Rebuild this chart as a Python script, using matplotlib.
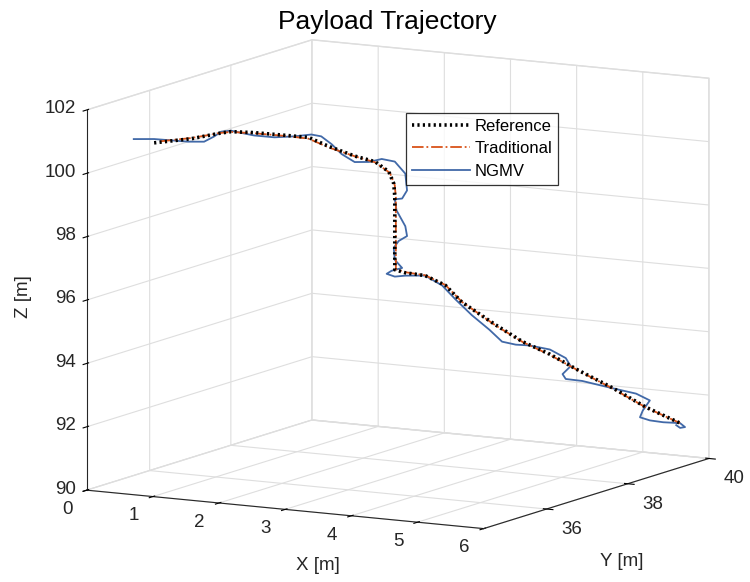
import matplotlib.pyplot as plt
from mpl_toolkits.mplot3d import proj3d

plt.rcParams["font.family"] = ["Liberation Sans", "DejaVu Sans"]

# reference path (x, y, z in m)
ref_x = [0.54, 0.92, 1.23, 1.33, 1.56, 1.91, 2.12, 2.32, 2.59, 2.80, 2.94, 2.99, 3.00, 3.00, 3.00, 3.00,
         3.11, 3.31, 3.52, 3.69, 4.03, 4.31, 4.59, 4.89, 5.23, 5.57, 5.92]
ref_y = [35.23, 35.52, 35.76, 35.84, 36.03, 36.30, 36.46, 36.62, 36.83, 36.99, 37.10, 37.14, 37.15, 37.15,
         37.15, 37.15, 37.23, 37.39, 37.55, 37.68, 37.95, 38.16, 38.38, 38.62, 38.88, 39.15, 39.42]
ref_z = [100.76, 100.85, 101.00, 101.03, 100.97, 100.84, 100.76, 100.46, 100.12, 99.92, 99.59, 99.21,
         98.80, 97.96, 97.02, 96.49, 96.38, 96.27, 95.94, 95.39, 94.64, 94.08, 93.65, 93.09, 92.52, 91.87, 91.33]

# traditional controller
trad_x = [0.60, 0.92, 1.22, 1.33, 1.56, 1.91, 2.12, 2.33, 2.60, 2.80, 2.95, 3.00, 3.01, 3.01, 3.01, 3.01,
          3.10, 3.31, 3.52, 3.69, 4.03, 4.31, 4.59, 4.89, 5.23, 5.57, 5.92]
trad_y = [35.28, 35.53, 35.76, 35.84, 36.03, 36.30, 36.46, 36.62, 36.84, 36.99, 37.11, 37.15, 37.16, 37.16,
          37.16, 37.16, 37.23, 37.39, 37.55, 37.68, 37.95, 38.17, 38.38, 38.62, 38.88, 39.15, 39.42]
trad_z = [100.80, 100.87, 101.00, 101.02, 100.95, 100.82, 100.72, 100.42, 100.10, 99.90, 99.55, 99.15,
          98.75, 97.95, 97.00, 96.50, 96.40, 96.28, 95.95, 95.40, 94.62, 94.06, 93.63, 93.08, 92.50, 91.86, 91.33]

# NGMV controller
ngmv_x = [0.33, 0.54, 0.89, 1.05, 1.15, 1.23, 1.33, 1.43, 1.56, 1.77, 1.98, 2.15, 2.25, 2.36, 2.46, 2.59,
          2.74, 2.87, 3.00, 3.11, 3.13, 3.08, 3.00, 3.02, 3.11, 3.13, 3.04, 2.99, 3.00, 3.08, 2.97, 2.92,
          3.00, 3.11, 3.31, 3.49, 3.62, 3.79, 3.97, 4.10, 4.24, 4.38, 4.59, 4.75, 4.80, 4.72, 4.75, 4.92,
          5.20, 5.47, 5.61, 5.54, 5.51, 5.61, 5.75, 5.92, 5.97, 5.92, 5.88]
ngmv_y = [35.07, 35.23, 35.50, 35.63, 35.71, 35.76, 35.84, 35.92, 36.03, 36.19, 36.35, 36.48, 36.56, 36.64,
          36.72, 36.83, 36.94, 37.04, 37.15, 37.23, 37.24, 37.20, 37.15, 37.16, 37.23, 37.24, 37.18, 37.14,
          37.15, 37.20, 37.12, 37.08, 37.15, 37.23, 37.39, 37.52, 37.63, 37.76, 37.90, 38.00, 38.11, 38.22,
          38.38, 38.51, 38.55, 38.48, 38.51, 38.64, 38.86, 39.07, 39.18, 39.12, 39.10, 39.18, 39.28, 39.42,
          39.46, 39.42, 39.39]
ngmv_z = [100.90, 100.88, 100.76, 100.74, 100.89, 101.04, 101.06, 100.98, 100.88, 100.80, 100.81, 100.85,
          100.78, 100.52, 100.20, 99.93, 99.92, 100.00, 99.90, 99.51, 98.98, 98.73, 98.71, 98.36, 97.85,
          97.54, 97.39, 97.18, 96.80, 96.54, 96.46, 96.37, 96.27, 96.29, 96.27, 95.94, 95.49, 94.97, 94.49,
          94.10, 93.99, 93.95, 93.80, 93.51, 93.25, 93.01, 92.85, 92.77, 92.53, 92.31, 92.08, 91.77, 91.56,
          91.45, 91.38, 91.33, 91.20, 91.18, 91.27]

x_ticks = [0, 1, 2, 3, 4, 5, 6]
y_ticks = [36, 38, 40]
z_ticks = [90, 92, 94, 96, 98, 100, 102]

XLIM = (0, 6)
YLIM = (34.45, 40)
ZLIM = (90, 102)

GRID = "#dedede"
AXC = "#262626"
FS = 13.5

fig = plt.figure(figsize=(7.5, 5.82), dpi=100)
ax = fig.add_axes([0.0207, 0.0341, 1.0, 0.93], projection="3d")
ax.computed_zorder = False
ax.set_proj_type("ortho")
ax.view_init(elev=10.0, azim=-60.85)
ax.set_box_aspect((452, 460, 384), zoom=1.3535)

ax.plot(ngmv_x, ngmv_y, ngmv_z, color="#4169a8", lw=1.3, label="NGMV", zorder=2, clip_on=False)
ax.plot(trad_x, trad_y, trad_z, color="#d95319", lw=1.3, ls="-.", label="Traditional", zorder=3,
        clip_on=False)
ax.plot(ref_x, ref_y, ref_z, color="black", lw=2.6, ls=(0, (0.6, 0.9)), label="Reference", zorder=4,
        clip_on=False)

ax.set_xlim(*XLIM)
ax.set_ylim(*YLIM)
ax.set_zlim(*ZLIM)
ax.set_xticks(x_ticks)
ax.set_yticks(y_ticks)
ax.set_zticks(z_ticks)

# z axis on the front-left edge, as in MATLAB
ax.zaxis.set_ticks_position("lower")
ax.zaxis.set_label_position("lower")

for axis in (ax.xaxis, ax.yaxis, ax.zaxis):
    axis.set_pane_color((1, 1, 1, 1))
    axis.pane.set_edgecolor(GRID)
    axis.line.set_color(AXC)
    axis._axinfo["grid"].update(color=GRID, linewidth=0.8)
    axis._axinfo["tick"].update(color=AXC)
    # built-in labels are replaced by texts placed below
    axis.set_tick_params(label1On=False, label2On=False)
    axis.label.set_visible(False)
    axis.offsetText.set_visible(False)

# draw once so the projection is known, then put tick labels where MATLAB does
fig.canvas.draw()
to_fig = fig.transFigure.inverted()


def put_label(x, y, z, s, **kw):
    px, py, _ = proj3d.proj_transform(x, y, z, ax.M)
    fx, fy = to_fig.transform(ax.transData.transform((px, py)))
    fig.text(fx, fy, s, fontsize=FS, color=AXC, **kw)


for t in x_ticks:
    put_label(t, YLIM[0] - 0.48, ZLIM[0] - 0.15, str(t), ha="center", va="top")
for t in y_ticks:
    put_label(XLIM[1] + 0.38, t, ZLIM[0] - 0.3, str(t), ha="center", va="top")
for t in z_ticks:
    put_label(XLIM[0] - 0.17, YLIM[0], t, str(t), ha="right", va="center")

fig.text(318 / 750, 1 - 565 / 582, "X [m]", fontsize=FS, ha="center", va="center", color=AXC)
fig.text(622 / 750, 1 - 561 / 582, "Y [m]", fontsize=FS, ha="center", va="center", color=AXC)
fig.text(24 / 750, 1 - 297 / 582, "Z [m]", fontsize=FS, ha="center", va="center", rotation=90, color=AXC)

fig.text(387 / 750, 1 - 22 / 582, "Payload Trajectory", fontsize=19, ha="center", va="center")

h, l = ax.get_legend_handles_labels()
leg = ax.legend(h[::-1], l[::-1], loc="upper left", bbox_to_anchor=(406 / 750, 1 - 113 / 582),
                bbox_transform=fig.transFigure, fontsize=12, fancybox=False, edgecolor="black",
                handlelength=3.5, borderpad=0.35, labelspacing=0.45, handletextpad=0.25, borderaxespad=0)
leg.get_frame().set_linewidth(0.9)

fig.savefig("out.png", dpi=100)
